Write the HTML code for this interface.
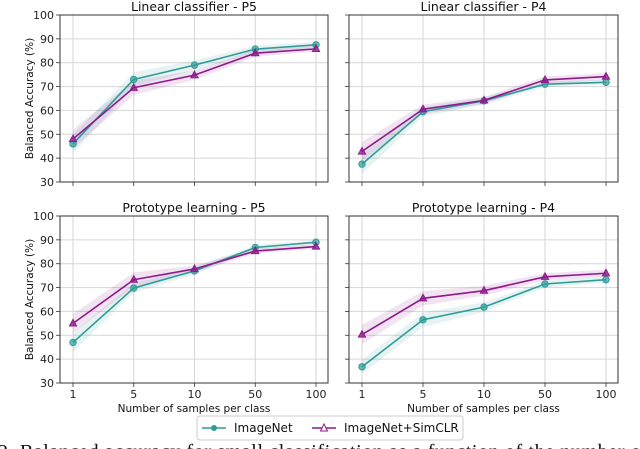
<!DOCTYPE html>
<html><head><meta charset="utf-8"><style>
html,body{margin:0;padding:0;background:#fff;width:640px;height:449px;overflow:hidden}
svg{display:block;font-family:"DejaVu Sans","Liberation Sans",sans-serif}
</style></head><body>
<svg id="fig" width="640" height="449" viewBox="0 0 640 449" xmlns="http://www.w3.org/2000/svg"></svg>
<script>
const categories = ["1","5","10","50","100"];
const yTicks = [30,40,50,60,70,80,90,100];
const titles = ["Linear classifier - P5","Linear classifier - P4","Prototype learning - P5","Prototype learning - P4"];
const imagenetLCP5 = [46,73,79,85.7,87.5];
const simclrLCP5 = [48,69.5,74.8,84,85.8];
const imagenetLCP4 = [37.5,59.5,64,71,71.8];
const simclrLCP4 = [42.8,60.5,64.2,72.8,74.2];
const imagenetPLP5 = [47,69.8,77,86.8,89];
const simclrPLP5 = [55,73.3,77.8,85.3,87.2];
const imagenetPLP4 = [36.8,56.5,61.8,71.5,73.3];
const simclrPLP4 = [50.3,65.5,68.7,74.5,76];
const bandIN = [[4,3,2,1.5,1.2],[4,2,1.5,1.2,1],[4,2,1.5,1,1],[3,3,2,1.5,1.2]];
const bandSim = [[4,3,2,1.5,1.2],[4,2,1.5,1.5,1.5],[4,3,1.5,1,1],[4,3,2,1.5,1.5]];

const NS="http://www.w3.org/2000/svg";
const svg=document.getElementById('fig');
function mk(tag,attrs,parent){const e=document.createElementNS(NS,tag);for(const k in attrs)e.setAttribute(k,attrs[k]);(parent||svg).appendChild(e);return e;}
const TEAL="#2f9b98", PURP="#8e1a8c";
const panels=[
 {fx0:60,fx1:328,tx0:73,tx1:316,y0:15,y1:182,IN:imagenetLCP5,SIM:simclrLCP5,left:true,bottom:false},
 {fx0:349,fx1:618,tx0:362,tx1:606,y0:15,y1:182,IN:imagenetLCP4,SIM:simclrLCP4,left:false,bottom:false},
 {fx0:60,fx1:328,tx0:73,tx1:316,y0:216,y1:383,IN:imagenetPLP5,SIM:simclrPLP5,left:true,bottom:true},
 {fx0:349,fx1:618,tx0:362,tx1:606,y0:216,y1:383,IN:imagenetPLP4,SIM:simclrPLP4,left:false,bottom:true}
];
panels.forEach((p,pi)=>{
 const g=mk('g',{});
 
 
 const xs=i=>p.tx0+(p.tx1-p.tx0)*i/(categories.length-1);
 const ys=v=>p.y1-(v-30)/70*(p.y1-p.y0);
 yTicks.forEach(t=>{
  mk('line',{x1:p.fx0,x2:p.fx1,y1:ys(t),y2:ys(t),stroke:"#d6d6d6","stroke-width":1},g);
  mk('line',{x1:p.fx0-4,x2:p.fx0,y1:ys(t),y2:ys(t),stroke:"#333","stroke-width":0.8},g);
  if(p.left){const tx=mk('text',{x:p.fx0-6,y:ys(t)+4,"text-anchor":"end","font-size":11,fill:"#222"},g);tx.textContent=t;
   }
 });
 categories.forEach((c,i)=>{
  mk('line',{x1:xs(i),x2:xs(i),y1:p.y0,y2:p.y1,stroke:"#d6d6d6","stroke-width":1},g);
  mk('line',{x1:xs(i),x2:xs(i),y1:p.y1,y2:p.y1+4,stroke:"#333","stroke-width":0.8},g);
  if(p.bottom){const tx=mk('text',{x:xs(i),y:p.y1+15,"text-anchor":"middle","font-size":11,fill:"#222"},g);tx.textContent=c;
   }
 });
 const series=[[p.IN,TEAL,bandIN[pi],'imagenet'],[p.SIM,PURP,bandSim[pi],'simclr']];
 series.forEach(([d,col,b,nm])=>{
  let up=d.map((v,i)=>xs(i)+','+ys(v+b[i])).join(' ');
  let dn=d.map((v,i)=>xs(i)+','+ys(v-b[i])).reverse().join(' ');
  const band=mk('polygon',{points:up+' '+dn,fill:col,opacity:0.12},g);
  
 });
 series.forEach(([d,col,b,nm])=>{
  const pl=mk('polyline',{points:d.map((v,i)=>xs(i)+','+ys(v)).join(' '),fill:"none",stroke:col,"stroke-width":1.6},g);
  
  d.forEach((v,i)=>{
   let m;
   if(nm==='imagenet') m=mk('circle',{cx:xs(i),cy:ys(v),r:3.2,fill:col,stroke:col,"fill-opacity":0.7},g);
   else {const x=xs(i),y=ys(v);m=mk('polygon',{points:`${x},${y-4} ${x-3.6},${y+2.6} ${x+3.6},${y+2.6}`,fill:col,"fill-opacity":0.8,stroke:col},g);}
   
  });
 });
 mk('rect',{x:p.fx0,y:p.y0,width:p.fx1-p.fx0,height:p.y1-p.y0,fill:"none",stroke:"#333","stroke-width":1},g);
 const t=mk('text',{x:(p.fx0+p.fx1)/2,y:p.y0-4,"text-anchor":"middle","font-size":12.5,fill:"#111"},g);t.textContent=titles[pi];
 
 if(p.bottom){const xl=mk('text',{x:(p.fx0+p.fx1)/2,y:p.y1+29,"text-anchor":"middle","font-size":10.5,fill:"#111"},g);xl.textContent="Number of samples per class";
  }
 if(p.left){const cy=(p.y0+p.y1)/2;const yl=mk('text',{x:33,y:cy,"text-anchor":"middle","font-size":10.5,fill:"#111",transform:`rotate(-90 33 ${cy})`},g);yl.textContent="Balanced Accuracy (%)";
  }
});
const lg=mk('g',{});


mk('rect',{x:197,y:416,width:266,height:24,rx:3,fill:"#fff",stroke:"#ccc"},lg);
mk('line',{x1:202,x2:226,y1:428,y2:428,stroke:TEAL,"stroke-width":1.6},lg);
mk('circle',{cx:214,cy:428,r:3,fill:TEAL},lg);
const l1=mk('text',{x:234,y:432,"font-size":12,fill:"#111"},lg);l1.textContent="ImageNet";

mk('line',{x1:312,x2:336,y1:428,y2:428,stroke:PURP,"stroke-width":1.6},lg);
mk('polygon',{points:"324,424 320.5,431 327.5,431",fill:"#fff",stroke:PURP},lg);
const l2=mk('text',{x:344,y:432,"font-size":12,fill:"#111"},lg);l2.textContent="ImageNet+SimCLR";

const cap=mk('text',{x:-2,y:458,"font-size":20,fill:"#111","font-family":"Liberation Serif, serif",textLength:650,lengthAdjust:"spacing"});
cap.textContent="2. Balanced accuracy for small classification as a function of the number of";

</script>
</body></html>
